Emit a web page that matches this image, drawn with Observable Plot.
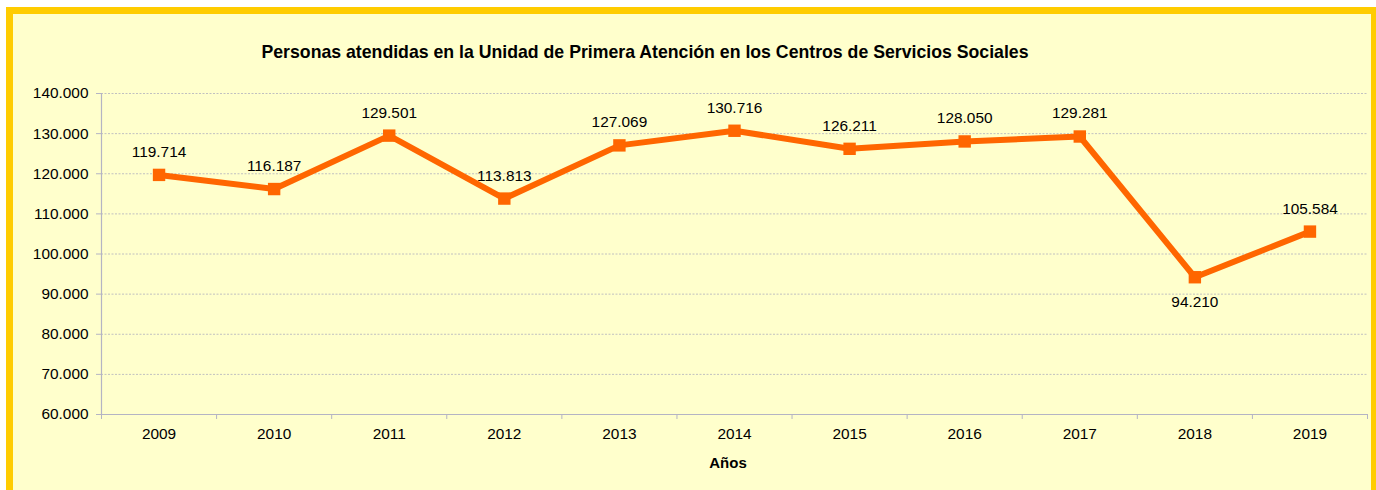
<!DOCTYPE html>
<html>
<head>
<meta charset="utf-8">
<script src="https://cdn.jsdelivr.net/npm/d3@7"></script>
<script src="https://cdn.jsdelivr.net/npm/@observablehq/plot@0.6"></script>
<style>
  html, body { margin: 0; padding: 0; background: #ffffff; }
  #wrap { position: relative; width: 1376px; height: 490px; overflow: hidden; font-family: "Liberation Sans", Arial, sans-serif; }
  #frame { position: absolute; left: 6px; top: 7px; width: 1358px; height: 520px; border: 7px solid #FFCC00; background: #FFFFCC; }
  #title { position: absolute; top: 42px; left: 0; width: 1290px; text-align: center; font-weight: bold; font-size: 17.7px; color: #000; }
  #xlabel { position: absolute; top: 454px; left: 0; width: 1456px; text-align: center; font-weight: bold; font-size: 15px; color: #000; }
  #chart { position: absolute; left: 0; top: 0; }
</style>
</head>
<body>
<div id="wrap">
  <div id="frame"></div>
  <div id="title">Personas atendidas en la Unidad de Primera Atención en los Centros de Servicios Sociales</div>
  <div id="chart"></div>
  <div id="xlabel">Años</div>
</div>
<script>
const years = [2009, 2010, 2011, 2012, 2013, 2014, 2015, 2016, 2017, 2018, 2019];
const personas = [119714, 116187, 129501, 113813, 127069, 130716, 126211, 128050, 129281, 94210, 105584];
const yTicks = [60000, 70000, 80000, 90000, 100000, 110000, 120000, 130000, 140000];

const fmt = v => Math.floor(v / 1000) + "." + String(v % 1000).padStart(3, "0");
const data = years.map((y, i) => ({year: y, value: personas[i]}));
const above = data.filter(d => d.year !== 2018);
const below = data.filter(d => d.year === 2018);
const bounds = [years[0] - 0.5, ...years.map(y => y + 0.5)];

const axisColor = "#b4b4c4";
const fs = 15.4;

const chart = Plot.plot({
  width: 1376,
  height: 490,
  marginLeft: 101,
  marginRight: 9,
  marginTop: 93,
  marginBottom: 76,
  style: {background: "transparent", fontFamily: "'Liberation Sans', Arial, sans-serif", fontSize: "15px", color: "#000"},
  x: {type: "linear", domain: [years[0] - 0.5, years[years.length - 1] + 0.5]},
  y: {domain: [60000, 140000]},
  marks: [
    Plot.gridY(yTicks.slice(1), {stroke: "#c0c0c0", strokeOpacity: 1, strokeDasharray: "2,1.5"}),
    Plot.ruleX([years[0] - 0.5], {stroke: axisColor, strokeWidth: 1.2}),
    Plot.ruleY([60000], {stroke: axisColor, strokeWidth: 1.2}),
    Plot.axisY({ticks: yTicks, tickFormat: fmt, tickSize: 5, tickPadding: 8, stroke: axisColor, fill: "#000", fontSize: fs, label: null}),
    Plot.axisX({ticks: bounds, tickSize: 5, tickFormat: () => "", stroke: axisColor, label: null}),
    Plot.axisX({ticks: years, tickSize: 0, tickPadding: 14, tickFormat: d => String(d), fill: "#000", fontSize: fs, label: null}),
    Plot.line(data, {x: "year", y: "value", stroke: "#FF6600", strokeWidth: 6, strokeLinejoin: "miter"}),
    Plot.dot(data, {x: "year", y: "value", symbol: "square", r: 7, fill: "#FF6600", stroke: "none"}),
    Plot.text(above, {x: "year", y: "value", text: d => fmt(d.value), dy: -23, fontSize: fs, fill: "#000"}),
    Plot.text(below, {x: "year", y: "value", text: d => fmt(d.value), dy: 25, fontSize: fs, fill: "#000"})
  ]
});
document.getElementById("chart").appendChild(chart);
</script>
</body>
</html>
